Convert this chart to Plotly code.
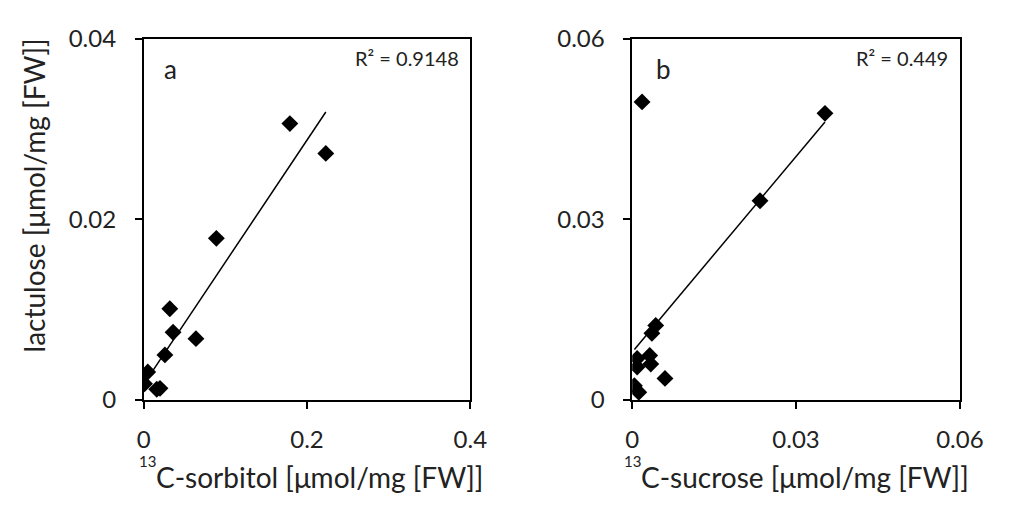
import numpy as np
import plotly.graph_objects as go

# Panel a: 13C-sorbitol vs lactulose
sorbitol_x = [0.179, 0.223, 0.089, 0.032, 0.036, 0.064, 0.026, 0.005, 0.001, 0.016, 0.020]
sorbitol_y = [0.0306, 0.0273, 0.0179, 0.0101, 0.0075, 0.0068, 0.0050, 0.0031, 0.0018, 0.0012, 0.0013]
# Panel b: 13C-sucrose vs lactulose
sucrose_x = [0.0018, 0.0353, 0.0234, 0.0043, 0.0036, 0.0032, 0.0034, 0.0060, 0.0009, 0.0009, 0.0004, 0.0012]
sucrose_y = [0.0495, 0.0476, 0.0331, 0.0124, 0.0111, 0.0074, 0.0060, 0.0036, 0.0069, 0.0055, 0.0024, 0.0013]

r2_a = "R² = 0.9148"
r2_b = "R² = 0.449"
xticks_a = [0, 0.2, 0.4]
yticks_a = [0, 0.02, 0.04]
ticks_b = [0, 0.03, 0.06]

FONT = "Lato"

def trend(xs, ys):
    xs = np.array(xs); ys = np.array(ys)
    m, b = np.polyfit(xs, ys, 1)
    xx = np.array([xs.min(), xs.max()])
    return xx, m * xx + b

fig = go.Figure()
fig.add_trace(go.Scatter(x=sorbitol_x, y=sorbitol_y, mode="markers",
                         marker=dict(symbol="diamond", size=13, color="black"),
                         xaxis="x", yaxis="y", showlegend=False))
tx, ty = trend(sorbitol_x, sorbitol_y)
fig.add_trace(go.Scatter(x=tx, y=ty, mode="lines", line=dict(color="black", width=1.5),
                         xaxis="x", yaxis="y", showlegend=False))
fig.add_trace(go.Scatter(x=sucrose_x, y=sucrose_y, mode="markers",
                         marker=dict(symbol="diamond", size=13, color="black"),
                         xaxis="x2", yaxis="y2", showlegend=False))
tx, ty = trend(sucrose_x, sucrose_y)
fig.add_trace(go.Scatter(x=tx, y=ty, mode="lines", line=dict(color="black", width=1.5),
                         xaxis="x2", yaxis="y2", showlegend=False))

W, H = 1011, 515
ydom = [1 - 407 / H, 1 - 24 / H]
axcommon = dict(showgrid=False, zeroline=False, showline=True, linecolor="black",
                linewidth=1.5, mirror=True, ticks="outside", ticklen=7, tickwidth=1.5,
                tickcolor="black", tickfont=dict(family=FONT, size=24, color="#222"))

fig.update_layout(
    width=W, height=H, margin=dict(l=0, r=0, t=0, b=0),
    paper_bgcolor="white", plot_bgcolor="white",
    xaxis=dict(domain=[141 / W, 478 / W], range=[0, 0.4], tickvals=xticks_a,
               ticktext=["0", "0.2", "0.4"], anchor="y", ticklabelstandoff=10, **axcommon),
    yaxis=dict(domain=ydom, range=[0, 0.04], tickvals=yticks_a,
               ticktext=["0", "0.02", "0.04"], anchor="x", ticklabelstandoff=14, **axcommon),
    xaxis2=dict(domain=[645 / W, 983 / W], range=[0, 0.06], tickvals=ticks_b,
                ticktext=["0", "0.03", "0.06"], anchor="y2", ticklabelstandoff=10, **axcommon),
    yaxis2=dict(domain=ydom, range=[0, 0.06], tickvals=ticks_b,
                ticktext=["0", "0.03", "0.06"], anchor="x2", ticklabelstandoff=14, **axcommon),
)

def ann(text, x, y, size, xanchor="center", yanchor="middle", angle=0):
    fig.add_annotation(text=text, x=x / W, y=1 - y / H, xref="paper", yref="paper",
                       showarrow=False, xanchor=xanchor, yanchor=yanchor, textangle=angle,
                       font=dict(family=FONT, size=size, color="#222"))

ann("a", 169, 56, 26)
ann("b", 677, 56, 26)
ann(r2_a, 468, 44, 20, xanchor="right")
ann(r2_b, 973, 44, 20, xanchor="right")
ann("lactulose [μmol/mg [FW]]", 28, 190, 28, angle=-90)
# x-axis titles: superscript mass number, then the label
ann("13", 134, 472, 15, xanchor="left")
ann("C-sorbitol [μmol/mg [FW]]", 152, 489, 28, xanchor="left")
ann("13", 634, 472, 15, xanchor="left")
ann("C-sucrose [μmol/mg [FW]]", 652, 489, 28, xanchor="left")

fig.write_html("out.html")
